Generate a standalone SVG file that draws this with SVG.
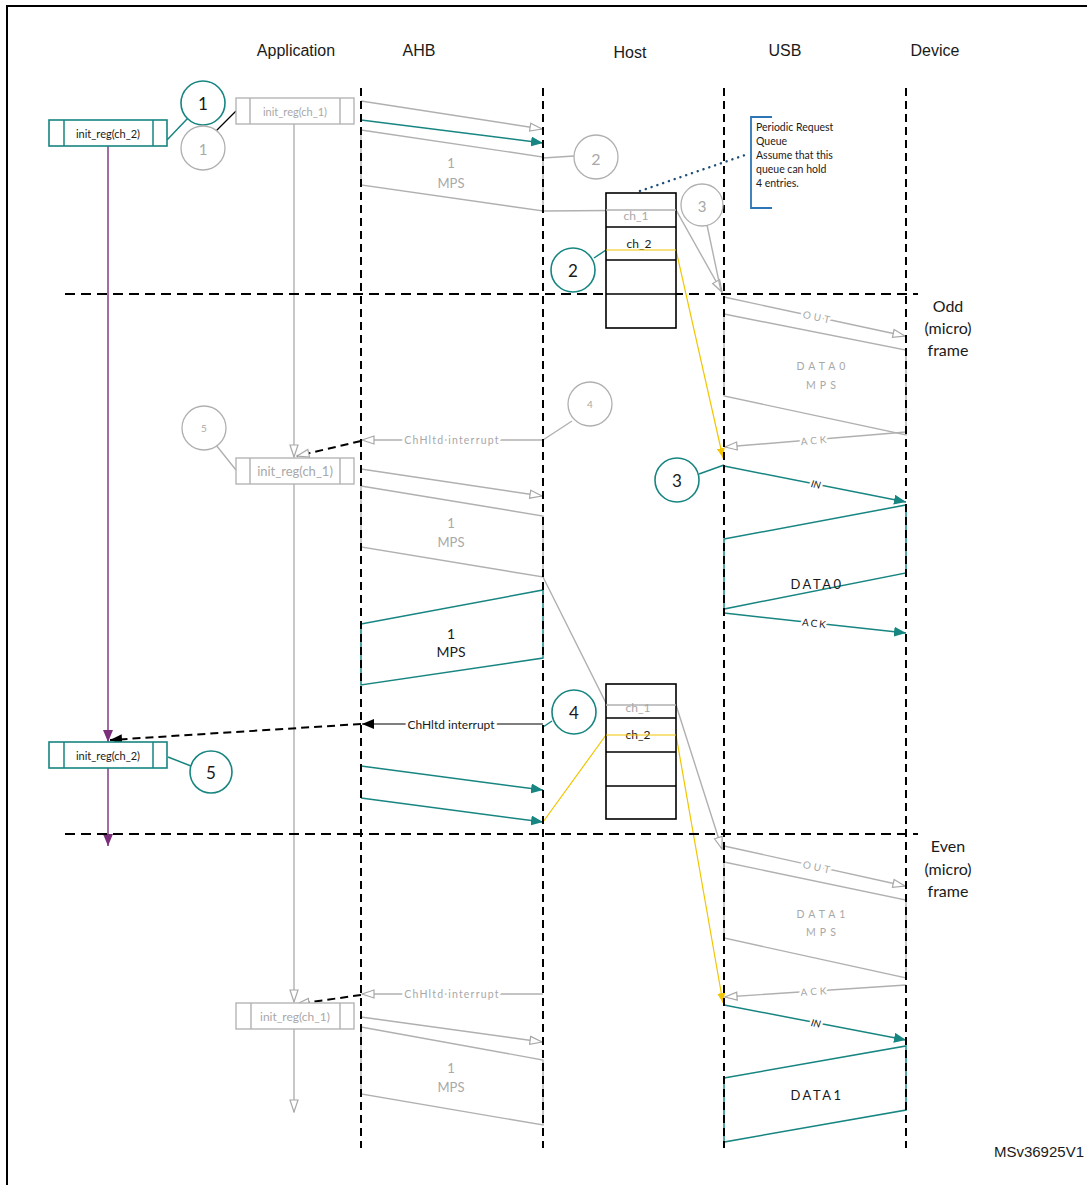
<svg xmlns="http://www.w3.org/2000/svg" width="1087" height="1185" viewBox="0 0 1087 1185">
<defs>
<style>
.hdr{font-family:"Liberation Sans",Arial,sans-serif;font-size:16px;fill:#1a1a1a;text-anchor:middle}
.frm{font-family:Lato,"Open Sans",sans-serif;font-size:16px;fill:#1a1a1a;text-anchor:middle}
.lt{font-family:Lato,"Open Sans",sans-serif;text-anchor:middle;dominant-baseline:central}
.lbl{paint-order:stroke;stroke:#fff;stroke-width:5px;stroke-linejoin:round}
.life{stroke:#000;stroke-width:2;stroke-dasharray:8 5;fill:none}
.hline{stroke:#000;stroke-width:2;stroke-dasharray:10 6;fill:none}
.g{stroke:#b0b0b0;stroke-width:1.4;fill:none}
.t{stroke:#178581;stroke-width:1.5;fill:none}
.tb{stroke:#178581;stroke-width:1.6;fill:#fff}
.gb{stroke:#b0b0b0;stroke-width:1.3;fill:#fff}
.q{stroke:#000;stroke-width:1.6;fill:#fff}
.y{stroke:#f2c500;stroke-width:1.2;fill:none}
.k{stroke:#000;stroke-width:1.2;fill:none}
.kd{stroke:#000;stroke-width:2;stroke-dasharray:8 5;fill:none}
.p{stroke:#7b2f7b;stroke-width:1.4;fill:none}
.gt{fill:#a8a8a8}
.kt{fill:#1a1a1a}
</style>
<marker id="openG" viewBox="0 0 14 10" refX="13" refY="5" markerWidth="14" markerHeight="10" markerUnits="userSpaceOnUse" orient="auto"><path d="M1,1 L13,5 L1,9 z" fill="#fff" stroke="#a8a8a8" stroke-width="1.2"/></marker>
<marker id="tealM" viewBox="0 0 12 10" refX="12" refY="5" markerWidth="12" markerHeight="10" markerUnits="userSpaceOnUse" orient="auto"><path d="M0,0 L12,5 L0,10 z" fill="#178581"/></marker>
<marker id="blackM" viewBox="0 0 12 10" refX="12" refY="5" markerWidth="12" markerHeight="10" markerUnits="userSpaceOnUse" orient="auto"><path d="M0,0 L12,5 L0,10 z" fill="#000"/></marker>
<marker id="purpM" viewBox="0 0 12 10" refX="12" refY="5" markerWidth="12" markerHeight="10" markerUnits="userSpaceOnUse" orient="auto"><path d="M0,0 L12,5 L0,10 z" fill="#7b2f7b"/></marker>
<marker id="yelM" viewBox="0 0 10 8" refX="10" refY="4" markerWidth="10" markerHeight="8" markerUnits="userSpaceOnUse" orient="auto"><path d="M0,0 L10,4 L0,8 z" fill="#f2c500"/></marker>
</defs>
<rect width="1087" height="1185" fill="#fff"/>
<!-- frame -->
<path d="M7,1185 V6 H1087" fill="none" stroke="#000" stroke-width="2"/>

<g id="headers">
<text class="hdr" x="296" y="56">Application</text>
<text class="hdr" x="419" y="56">AHB</text>
<text class="hdr" x="630" y="58">Host</text>
<text class="hdr" x="785" y="56">USB</text>
<text class="hdr" x="935" y="56">Device</text>
</g>

<g id="connectors">
<!-- top section -->
<line class="t" x1="167" y1="140" x2="188" y2="118"/>
<line class="k" x1="216" y1="131" x2="236" y2="111"/>
<line class="g" x1="294" y1="124" x2="294" y2="457" marker-end="url(#openG)"/>
<line class="p" x1="108" y1="146" x2="108" y2="742" marker-end="url(#purpM)"/>
<line class="p" x1="108" y1="768" x2="108" y2="846" marker-end="url(#purpM)"/>
<line class="g" x1="361" y1="101" x2="542" y2="129" marker-end="url(#openG)"/>
<line class="t" x1="361" y1="120" x2="543" y2="143" marker-end="url(#tealM)"/>
<polygon class="g" points="361,130 543,157 543,211 361,185"/>
<line class="g" x1="543" y1="158" x2="574" y2="156"/>
<polyline class="g" points="543,211 676,210 722,292" marker-end="url(#openG)"/>
<line class="g" x1="707" y1="225" x2="721" y2="291"/>
<line class="t" x1="594" y1="258" x2="606" y2="250"/>
<polyline class="y" points="606,250 676,250 723,458" marker-end="url(#yelM)"/>
<line x1="640" y1="191" x2="748" y2="154" stroke="#1f4e79" stroke-width="2.4" stroke-dasharray="0.1 6" stroke-linecap="round"/>

<!-- odd frame USB -->
<line class="g" x1="724" y1="297" x2="905" y2="336" marker-end="url(#openG)"/>
<polygon class="g" points="724,314 906,350 906,435 724,396"/>
<line class="g" x1="906" y1="432" x2="725" y2="447" marker-end="url(#openG)"/>
<line class="t" x1="699" y1="474" x2="724" y2="465"/>
<line class="t" x1="724" y1="466" x2="906" y2="502" marker-end="url(#tealM)"/>
<polygon class="t" points="724,539 906,505 906,573 724,609"/>
<line class="t" x1="724" y1="613" x2="906" y2="633" marker-end="url(#tealM)"/>

<!-- AHB middle -->
<line class="g" x1="572" y1="421" x2="543" y2="440"/>
<line class="g" x1="543" y1="440" x2="362" y2="440" marker-end="url(#openG)"/>
<line class="kd" x1="361" y1="441" x2="297" y2="456" marker-end="url(#openG)"/>
<line class="g" x1="216" y1="445" x2="236" y2="470"/>
<line class="g" x1="294" y1="484" x2="294" y2="1002" marker-end="url(#openG)"/>
<line class="g" x1="361" y1="469" x2="542" y2="496" marker-end="url(#openG)"/>
<polygon class="g" points="361,486 543,516 543,577 361,547"/>
<polyline class="g" points="543,577 606,703 676,705 722,849" marker-end="url(#openG)"/>
<polygon class="t" points="361,624 543,590 543,658 361,685"/>
<line class="k" x1="543" y1="724" x2="362" y2="724" marker-end="url(#blackM)"/>
<line class="t" x1="552" y1="721" x2="543" y2="727"/>
<line class="kd" x1="361" y1="724" x2="110" y2="740" marker-end="url(#blackM)"/>
<line class="t" x1="168" y1="757" x2="191" y2="766"/>
<line class="t" x1="361" y1="766" x2="543" y2="790" marker-end="url(#tealM)"/>
<line class="t" x1="361" y1="798" x2="543" y2="822" marker-end="url(#tealM)"/>
<polyline class="y" points="543,822 606,735 676,735 723,1003" marker-end="url(#yelM)"/>

<!-- even frame -->
<line class="g" x1="724" y1="846" x2="905" y2="886" marker-end="url(#openG)"/>
<polygon class="g" points="724,862 906,900 906,978 724,938"/>
<line class="g" x1="906" y1="985" x2="725" y2="997" marker-end="url(#openG)"/>
<line class="t" x1="724" y1="1005" x2="906" y2="1040" marker-end="url(#tealM)"/>
<polygon class="t" points="724,1078 906,1046 906,1110 724,1142"/>
<line class="g" x1="543" y1="994" x2="362" y2="994" marker-end="url(#openG)"/>
<line class="kd" x1="361" y1="995" x2="297" y2="1004" marker-end="url(#openG)"/>
<line class="g" x1="294" y1="1029" x2="294" y2="1112" marker-end="url(#openG)"/>
<line class="g" x1="361" y1="1017" x2="542" y2="1042" marker-end="url(#openG)"/>
<polygon class="g" points="361,1027 543,1060 543,1125 361,1094"/>
</g>

<g id="lifelines">
<line class="life" x1="361" y1="88" x2="361" y2="1148"/>
<line class="life" x1="543" y1="88" x2="543" y2="1148"/>
<line class="life" x1="724" y1="88" x2="724" y2="1148"/>
<line class="life" x1="906" y1="88" x2="906" y2="1148"/>
<line class="hline" x1="65" y1="294" x2="918" y2="294"/>
<line class="hline" x1="65" y1="834" x2="918" y2="834"/>
</g>

<g id="queue1">
<rect class="q" x="606" y="193" width="70" height="135"/>
<line class="q" x1="606" y1="227" x2="676" y2="227"/>
<line class="q" x1="606" y1="260" x2="676" y2="260"/>
<line class="q" x1="606" y1="294" x2="676" y2="294"/>
<line class="g" x1="606" y1="210" x2="676" y2="210"/>
<text class="lt gt" x="636" y="215" font-size="12">ch_1</text>
<text class="lt kt" x="639" y="243" font-size="12">ch_2</text>
<line class="y" x1="606" y1="250" x2="676" y2="250"/>
</g>

<g id="queue2">
<rect class="q" x="606" y="684" width="70" height="135"/>
<line class="q" x1="606" y1="718" x2="676" y2="718"/>
<line class="q" x1="606" y1="752" x2="676" y2="752"/>
<line class="q" x1="606" y1="786" x2="676" y2="786"/>
<line class="g" x1="606" y1="705" x2="676" y2="705"/>
<text class="lt gt" x="638" y="707" font-size="12">ch_1</text>
<text class="lt kt" x="638" y="734" font-size="12">ch_2</text>
<line class="y" x1="606" y1="735" x2="676" y2="735"/>
</g>

<g id="note">
<path d="M772,117 H751 V208 H772" fill="none" stroke="#2e75b6" stroke-width="1.8"/>
<g font-family="Lato,'Open Sans',sans-serif" font-size="10.5" fill="#1a1a1a">
<text x="756" y="131">Periodic Request</text>
<text x="756" y="145">Queue</text>
<text x="756" y="159">Assume that this</text>
<text x="756" y="173">queue can hold</text>
<text x="756" y="187">4 entries.</text>
</g>
</g>

<g id="box-ch2-top">
<rect class="tb" x="49" y="120" width="118" height="26"/>
<line class="t" x1="64" y1="120" x2="64" y2="146"/>
<line class="t" x1="153" y1="120" x2="153" y2="146"/>
<text class="lt kt" x="108" y="133" font-size="11">init_reg(ch_2)</text>
</g>
<g id="box-ch2-bottom">
<rect class="tb" x="49" y="742" width="118" height="26"/>
<line class="t" x1="64" y1="742" x2="64" y2="768"/>
<line class="t" x1="153" y1="742" x2="153" y2="768"/>
<text class="lt kt" x="108" y="755" font-size="11">init_reg(ch_2)</text>
</g>
<g id="box-ch1-a">
<rect class="gb" x="236" y="98" width="118" height="26"/>
<line class="g" x1="250" y1="98" x2="250" y2="124"/>
<line class="g" x1="340" y1="98" x2="340" y2="124"/>
<text class="lt gt" x="295" y="111" font-size="11">init_reg(ch_1)</text>
</g>
<g id="box-ch1-b">
<rect class="gb" x="236" y="458" width="118" height="26"/>
<line class="g" x1="250" y1="458" x2="250" y2="484"/>
<line class="g" x1="340" y1="458" x2="340" y2="484"/>
<text class="lt gt" x="295" y="471" font-size="13">init_reg(ch_1)</text>
</g>
<g id="box-ch1-c">
<rect class="gb" x="236" y="1003" width="118" height="26"/>
<line class="g" x1="251" y1="1003" x2="251" y2="1029"/>
<line class="g" x1="340" y1="1003" x2="340" y2="1029"/>
<text class="lt gt" x="295" y="1016" font-size="12">init_reg(ch_1)</text>
</g>

<g id="circles">
<g id="c1-teal"><circle class="tb" cx="203" cy="103" r="22"/><text class="lt kt" x="203" y="103" font-size="17">1</text></g>
<g id="c1-grey"><circle class="gb" cx="203" cy="148" r="22"/><text class="lt gt" x="203" y="149" font-size="15">1</text></g>
<g id="c2-grey"><circle class="gb" cx="596" cy="157" r="22"/><text class="lt gt" x="596" y="158" font-size="16">2</text></g>
<g id="c3-grey"><circle class="gb" cx="702" cy="205" r="21"/><text class="lt gt" x="702" y="206" font-size="15">3</text></g>
<g id="c2-teal"><circle class="tb" cx="573" cy="270" r="22"/><text class="lt kt" x="573" y="270" font-size="17">2</text></g>
<g id="c4-grey"><circle class="gb" cx="590" cy="404" r="22"/><text class="lt gt" x="590" y="404" font-size="10">4</text></g>
<g id="c5-grey"><circle class="gb" cx="204" cy="428" r="22"/><text class="lt gt" x="204" y="428" font-size="10">5</text></g>
<g id="c3-teal"><circle class="tb" cx="677" cy="480" r="22"/><text class="lt kt" x="677" y="480" font-size="17">3</text></g>
<g id="c4-teal"><circle class="tb" cx="574" cy="712" r="22"/><text class="lt kt" x="574" y="712" font-size="17">4</text></g>
<g id="c5-teal"><circle class="tb" cx="211" cy="772" r="21"/><text class="lt kt" x="211" y="772" font-size="17">5</text></g>
</g>

<g id="labels">
<text class="lt gt" x="451" y="163" font-size="13">1</text>
<text class="lt gt" x="451" y="183" font-size="13">MPS</text>
<text class="lt gt" x="451" y="523" font-size="13">1</text>
<text class="lt gt" x="451" y="542" font-size="13">MPS</text>
<text class="lt gt" x="451" y="1068" font-size="13">1</text>
<text class="lt gt" x="451" y="1087" font-size="13">MPS</text>
<text class="lt kt" x="451" y="633" font-size="14">1</text>
<text class="lt kt" x="451" y="651" font-size="14">MPS</text>
<text class="lt gt lbl" x="452" y="440" font-size="10.5" letter-spacing="1.2">ChHltd interrupt</text>
<text class="lt gt lbl" x="452" y="994" font-size="10.5" letter-spacing="1.2">ChHltd interrupt</text>
<text class="lt kt lbl" x="451" y="724" font-size="12">ChHltd interrupt</text>
<text class="lt gt lbl" x="818" y="317" font-size="10" letter-spacing="3" transform="rotate(12.2 818 317)">OUT</text>
<text class="lt gt" x="823" y="366" font-size="10.5" letter-spacing="4">DATA0</text>
<text class="lt gt" x="823" y="385" font-size="10.5" letter-spacing="4">MPS</text>
<text class="lt gt lbl" x="815" y="440" font-size="10" letter-spacing="3" transform="rotate(-4.7 815 440)">ACK</text>
<text class="lt kt lbl" x="816" y="484" font-size="10" font-style="italic" transform="rotate(11.2 816 484)">IN</text>
<text class="lt kt" x="817" y="584" font-size="13" letter-spacing="2.5">DATA0</text>
<text class="lt kt lbl" x="815" y="623" font-size="10" letter-spacing="2" transform="rotate(6.3 815 623)">ACK</text>
<text class="lt gt lbl" x="818" y="867" font-size="10" letter-spacing="3" transform="rotate(12.5 818 867)">OUT</text>
<text class="lt gt" x="823" y="914" font-size="10.5" letter-spacing="4">DATA1</text>
<text class="lt gt" x="823" y="932" font-size="10.5" letter-spacing="4">MPS</text>
<text class="lt gt lbl" x="815" y="991" font-size="10" letter-spacing="3" transform="rotate(-3.8 815 991)">ACK</text>
<text class="lt kt lbl" x="816" y="1023" font-size="10" font-style="italic" transform="rotate(10.9 816 1023)">IN</text>
<text class="lt kt" x="817" y="1095" font-size="13" letter-spacing="2.5">DATA1</text>
<text class="frm" x="948" y="312">Odd</text>
<text class="frm" x="948" y="334">(micro)</text>
<text class="frm" x="948" y="356">frame</text>
<text class="frm" x="948" y="852">Even</text>
<text class="frm" x="948" y="875">(micro)</text>
<text class="frm" x="948" y="897">frame</text>
<text x="1084" y="1157" font-family="'Liberation Sans',Arial,sans-serif" font-size="15" fill="#1a1a1a" text-anchor="end">MSv36925V1</text>
</g>
</svg>
